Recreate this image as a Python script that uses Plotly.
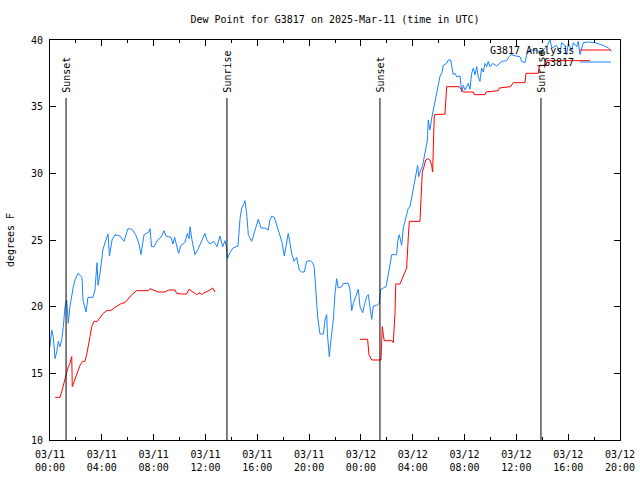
import pandas as pd
import plotly.graph_objects as go

# ---------------- data ----------------
start_time = "2025-03-11 00:00"
end_hours = 44

# G3817 observations (hours after start, dew point F)
obs_hours = [0.00, 0.13, 0.25, 0.39, 0.52, 0.64, 0.77, 0.90, 1.03, 1.16, 1.29, 1.41, 1.54, 1.68, 1.80, 1.93,
             2.16, 2.47, 2.55, 2.78, 2.93, 3.32, 3.47, 3.63, 3.71, 3.86, 4.09, 4.25, 4.48, 4.59, 4.79, 5.02,
             5.40, 5.71, 6.02, 6.33, 6.61, 6.87, 7.02, 7.26, 7.64, 7.72, 7.84, 8.03, 8.31, 8.57, 8.80, 8.95,
             9.34, 9.49, 9.62, 9.93, 10.11, 10.40, 10.61, 10.73, 10.81, 10.96, 11.19, 11.42, 11.71, 11.96,
             12.10, 12.35, 12.63, 12.89, 13.12, 13.33, 13.51, 13.64, 13.69, 13.89, 14.13, 14.51, 14.67, 14.80,
             14.98, 15.05, 15.18, 15.31, 15.57, 15.69, 15.90, 16.08, 16.29, 16.60, 16.85, 16.98, 17.11, 17.31,
             17.62, 17.89, 18.09, 18.22, 18.39, 18.53, 18.66, 18.83, 19.04, 19.24, 19.43, 19.63, 19.81, 20.07,
             20.28, 20.40, 20.53, 20.66, 20.84, 21.10, 21.23, 21.36, 21.41, 21.56, 21.69, 21.87, 22.00, 22.13,
             22.25, 22.52, 22.64, 23.03, 23.16, 23.29, 23.41, 23.67, 23.80, 23.93, 24.14, 24.26, 24.45, 24.57,
             24.70, 24.83, 24.96, 25.22, 25.42, 25.53, 25.73, 25.94, 26.11, 26.38, 26.76, 26.84, 26.96, 27.15,
             27.27, 27.40, 27.53, 27.66, 27.79, 27.87, 28.00, 28.12, 28.25, 28.38, 28.46, 28.56, 28.77, 28.87,
             29.03, 29.13, 29.20, 29.33, 29.46, 29.59, 29.72, 29.85, 29.97, 30.10, 30.24, 30.36, 30.62, 30.75,
             30.93, 31.01, 31.13, 31.26, 31.39, 31.65, 31.78, 31.90, 32.03, 32.29, 32.42, 32.55, 32.68, 32.81,
             32.94, 33.06, 33.19, 33.32, 33.45, 33.58, 33.71, 33.83, 33.96, 34.17, 34.48, 34.87, 35.25, 35.45,
             35.59, 35.97, 36.28, 36.41, 36.67, 36.80, 37.05, 37.57, 37.82, 38.34, 38.60, 38.73, 39.11, 39.37,
             39.50, 39.75, 39.88, 40.01, 40.27, 40.40, 40.66, 40.78, 40.91, 41.17, 41.55, 42.07, 42.71, 43.10,
             43.36]
obs_values = [17.0, 18.25, 17.75, 16.1, 16.6, 17.4, 17.0, 17.5, 18.5, 20.0, 20.5, 18.75, 20.0, 21.0, 21.5, 22.0,
              22.5, 22.2, 20.5, 19.6, 20.7, 20.7, 21.25, 23.3, 21.6, 22.5, 24.3, 24.8, 25.45, 23.8, 25.0, 25.4,
              25.3, 24.9, 25.85, 25.8, 25.4, 24.7, 23.9, 25.4, 25.6, 25.85, 24.5, 24.5, 25.0, 25.2, 25.7, 25.3,
              25.2, 24.7, 25.2, 24.0, 24.6, 24.8, 25.5, 25.1, 26.0, 25.0, 23.9, 24.3, 25.0, 25.5,
              25.0, 24.7, 24.9, 24.5, 25.3, 24.5, 24.95, 24.4, 23.6, 24.05, 24.4, 24.55, 26.6, 27.4,
              27.75, 27.95, 27.0, 25.4, 24.9, 25.25, 26.0, 26.55, 25.9, 25.9, 25.75, 26.5, 26.8, 26.7,
              25.75, 24.9, 23.8, 24.6, 25.5, 24.75, 24.0, 23.4, 23.7, 22.75, 22.6, 22.6, 23.4, 23.45,
              23.3, 22.95, 21.25, 19.25, 17.95, 17.95, 19.0, 19.4, 18.0, 16.25, 17.5, 19.0, 21.0, 22.1,
              21.4, 21.5, 21.75, 21.75, 21.25, 19.7, 20.25, 20.9, 21.3, 20.0, 19.55, 20.1, 20.75, 20.9,
              19.9, 19.05, 20.05, 20.1, 20.25, 21.3, 21.4, 21.5, 22.4, 23.9, 23.9, 24.9, 25.4, 24.6,
              25.9, 26.4, 26.9, 27.4, 27.5, 27.9, 28.8, 29.3, 30.0, 30.6, 29.75, 30.1, 30.6, 31.1,
              31.75, 32.5, 34.0, 33.25, 34.1, 34.75, 35.4, 36.0, 36.75, 37.25, 37.5, 38.1, 38.25, 38.5,
              38.5, 38.0, 37.4, 37.5, 37.25, 37.3, 36.1, 36.6, 36.25, 36.75, 36.3, 37.5, 37.9, 37.4,
              38.0, 37.25, 36.9, 37.9, 37.6, 38.25, 38.0, 38.4, 38.0, 38.25, 38.05, 38.4, 38.45, 38.75,
              38.9, 38.8, 38.75, 38.4, 38.3, 38.9, 39.25, 39.25, 39.0, 39.5, 40.0, 39.4, 39.6, 39.0,
              39.8, 39.6, 38.9, 39.75, 39.2, 39.8, 39.5, 39.9, 38.9, 39.8, 39.85, 39.8, 39.6, 39.4,
              39.15]

# G3817 Analysis (None marks the data gap)
ana_hours = [0.39, 0.77, 0.90, 1.08, 1.24, 1.41, 1.54, 1.68, 1.72, 1.93, 2.11, 2.32, 2.52, 2.70, 2.83, 2.96,
             3.09, 3.22, 3.40, 3.65, 3.86, 4.11, 4.38, 4.76, 5.02, 5.27, 5.53, 5.79, 6.04, 6.31, 6.69, 7.59,
             7.72, 7.97, 8.36, 8.88, 9.13, 9.65, 9.78, 10.17, 10.55, 10.73, 11.06, 11.32, 11.58, 11.71, 11.83,
             12.10, 12.35, 12.56, 12.74,
             18.0,
             23.93, 24.52, 24.62, 24.83, 25.55, 25.65, 25.73, 25.80, 26.38, 26.50, 26.63, 26.69, 27.02, 27.53,
             27.66, 27.74, 28.56, 28.64, 28.74, 28.87, 29.00, 29.15, 29.33, 29.46, 29.54, 29.59, 29.67, 30.49,
             30.62, 31.59, 31.78, 31.90, 32.68, 32.75, 33.58, 33.66, 34.61, 34.68, 35.56, 35.76, 36.67, 36.74,
             37.69, 37.77, 38.30, 38.36, 41.68]
ana_values = [13.2, 13.2, 13.6, 14.25, 15.0, 15.5, 15.75, 16.25, 14.0, 14.6, 15.1, 15.6, 15.9, 15.9, 16.4, 17.0,
              17.75, 18.5, 18.9, 18.9, 19.2, 19.5, 19.7, 19.75, 19.95, 20.1, 20.25, 20.3, 20.6, 20.9, 21.2, 21.2,
              21.35, 21.25, 21.1, 21.1, 21.25, 21.25, 21.0, 20.95, 20.95, 21.3, 21.05, 20.9, 21.05, 20.9, 21.0,
              21.1, 21.25, 21.4, 21.1,
              None,
              17.55, 17.55, 16.4, 16.0, 16.0, 18.5, 17.9, 17.45, 17.45, 17.3, 19.5, 21.7, 21.7, 22.9,
              25.25, 26.4, 26.4, 27.9, 30.1, 30.5, 31.0, 31.1, 31.0, 30.6, 30.1, 32.0, 34.4, 34.45,
              36.5, 36.5, 36.25, 36.1, 36.1, 35.9, 35.9, 36.1, 36.2, 36.4, 36.5, 36.8, 36.8, 37.5,
              37.5, 38.1, 38.1, 38.45, 38.45]

# Sun events
event_hours = [1.24, 13.66, 25.47, 37.90]
event_labels = ["Sunset", "Sunrise", "Sunset", "Sunrise"]

y_ticks = [10, 15, 20, 25, 30, 35, 40]

series_names = ["G3817 Analysis", "G3817"]
series_colors = ["#ff0000", "#1a84ff"]

# ---------------- figure ----------------
base = pd.Timestamp(start_time)
to_time = lambda hs: [base + pd.Timedelta(hours=h) for h in hs]

FONT = "DejaVu Sans Mono"
fig = go.Figure()

fig.add_trace(go.Scatter(x=to_time(obs_hours), y=obs_values, mode="lines", name=series_names[1],
                         line=dict(color=series_colors[1], width=1), connectgaps=False))
fig.add_trace(go.Scatter(x=to_time(ana_hours), y=ana_values, mode="lines", name=series_names[0],
                         line=dict(color=series_colors[0], width=1), connectgaps=False))

for h, lab in zip(event_hours, event_labels):
    t = base + pd.Timedelta(hours=h)
    fig.add_shape(type="line", xref="x", yref="y", x0=t, x1=t, y0=10, y1=35.65,
                  line=dict(color="black", width=1))
    fig.add_annotation(x=t, y=35.9, xref="x", yref="y", text=lab, textangle=-90,
                       showarrow=False, xanchor="center", yanchor="bottom", xshift=1,
                       font=dict(family=FONT, size=10, color="black"))

# key (gnuplot style: text then sample line)
key_y = [0.975, 0.945]
for name, col, ky in zip(series_names, series_colors, key_y):
    fig.add_annotation(x=0.923, y=ky, xref="paper", yref="paper", text=name, showarrow=False,
                       xanchor="right", yanchor="middle", font=dict(family=FONT, size=10, color="black"))
    fig.add_shape(type="line", xref="paper", yref="paper", x0=0.93, x1=0.984, y0=ky, y1=ky,
                  line=dict(color=col, width=1))

fig.update_layout(
    width=640, height=480,
    margin=dict(l=50, r=20, t=40, b=40, autoexpand=False),
    paper_bgcolor="white", plot_bgcolor="white",
    showlegend=False,
    font=dict(family=FONT, size=10, color="black"),
    title=dict(text="Dew Point for G3817 on 2025-Mar-11 (time in UTC)", x=0.5, xref="paper",
               xanchor="center", y=0.96, yanchor="middle",
               font=dict(family=FONT, size=10, color="black")),
)

fig.update_xaxes(
    type="date", automargin=False,
    range=[base, base + pd.Timedelta(hours=end_hours)],
    tick0=base, dtick=4 * 3600 * 1000, tickformat="%m/%d<br>%H:%M",
    ticks="inside", ticklen=6, tickcolor="black", ticklabelstandoff=5,
    minor=dict(dtick=2 * 3600 * 1000, ticks="inside", ticklen=3, tickcolor="black"),
    showline=True, linecolor="black", linewidth=1, mirror="ticks",
    showgrid=False, zeroline=False,
    tickfont=dict(family=FONT, size=10, color="black"),
)
fig.update_yaxes(
    automargin=False,
    range=[10, 40], tickvals=y_ticks, ticktext=[str(v) for v in y_ticks],
    ticks="inside", ticklen=6, tickcolor="black", ticklabelstandoff=4,
    showline=True, linecolor="black", linewidth=1, mirror="ticks",
    showgrid=False, zeroline=False,
    title=dict(text="degrees F", font=dict(family=FONT, size=10, color="black"), standoff=14),
    tickfont=dict(family=FONT, size=10, color="black"),
)

fig.write_html("out.html")
